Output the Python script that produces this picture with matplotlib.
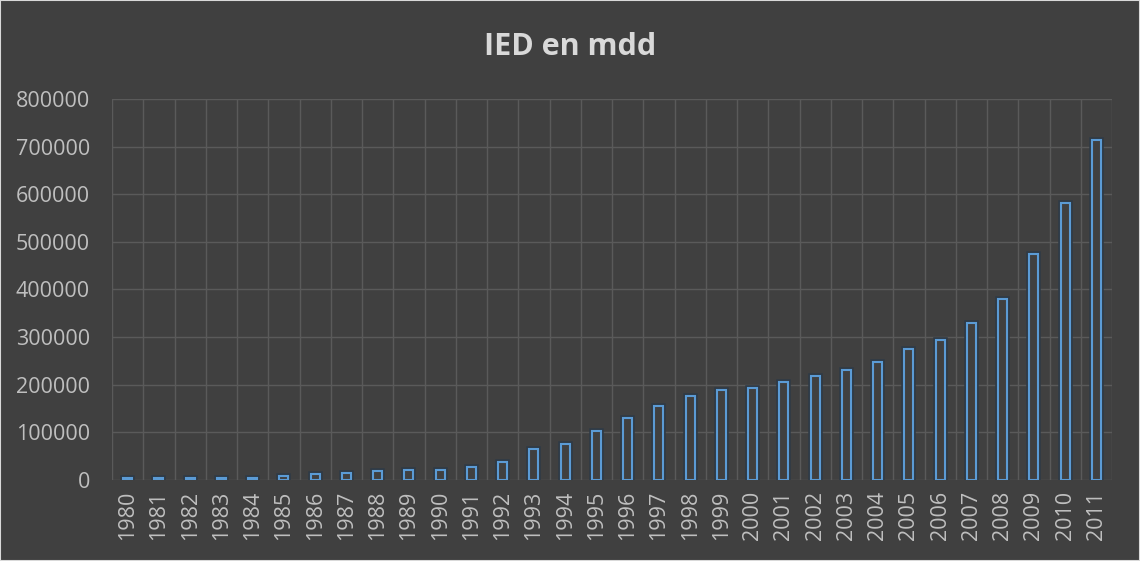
import matplotlib

matplotlib.use("Agg")
import matplotlib.pyplot as plt
import numpy as np

years = [str(y) for y in range(1980, 2012)]
ied = [4000, 4000, 4000, 4500, 5000, 8000, 12000, 14000, 18000, 20000,
       22000, 27000, 38000, 66000, 75000, 102000, 130000, 156000, 176000, 189000,
       194000, 206000, 219000, 231000, 248000, 275000, 295000, 330000, 380000, 475000,
       581000, 714000]
yticks = [0, 100000, 200000, 300000, 400000, 500000, 600000, 700000, 800000]

BG = "#404040"
GRID = "#5a5a5a"
BAR = "#5B9BD5"
TXT = "#BFBFBF"

plt.rcParams["font.family"] = ["Open Sans", "DejaVu Sans"]

fig = plt.figure(figsize=(11.4, 5.61), dpi=100, facecolor=BG)
ax = fig.add_axes([112 / 1140, 1 - 480 / 561, 1000 / 1140, 381 / 561])
ax.set_facecolor(BG)

x = np.arange(len(years))
# soft glow behind the outlined bars
ax.bar(x, ied, width=0.29, facecolor="none", edgecolor="#2f3a46", linewidth=4, zorder=2)
ax.bar(x, ied, width=0.29, facecolor=BG, edgecolor=BAR, linewidth=1.5, zorder=3)

ax.set_xlim(-0.5, len(years) - 0.5)
ax.set_ylim(0, 800000)
ax.set_yticks(yticks)
ax.set_yticklabels([str(v) for v in yticks])
ax.set_xticks(x)
ax.set_xticklabels(years, rotation=90)
ax.set_xticks(np.arange(-0.5, len(years), 1.0), minor=True)

ax.grid(True, axis="y", which="major", color=GRID, linewidth=1, zorder=0)
ax.grid(True, axis="x", which="minor", color=GRID, linewidth=1, zorder=0)
ax.grid(False, axis="x", which="major")
ax.set_axisbelow(True)

for s in ax.spines.values():
    s.set_visible(False)
ax.tick_params(axis="both", which="both", length=0, colors=TXT, labelsize=15.5)
ax.tick_params(axis="y", pad=16)
ax.tick_params(axis="x", pad=8)

fig.text(0.5, 1 - 47 / 561, "IED en mdd", ha="center", va="center",
         fontsize=22, fontweight="bold", color="#D9D9D9")

# thin light frame round the chart, as in the export
fig.patches.append(plt.Rectangle((0, 0), 1, 1, transform=fig.transFigure,
                                 fill=False, edgecolor="#D9D9D9", linewidth=1.5))

fig.savefig("out.png", facecolor=BG)
